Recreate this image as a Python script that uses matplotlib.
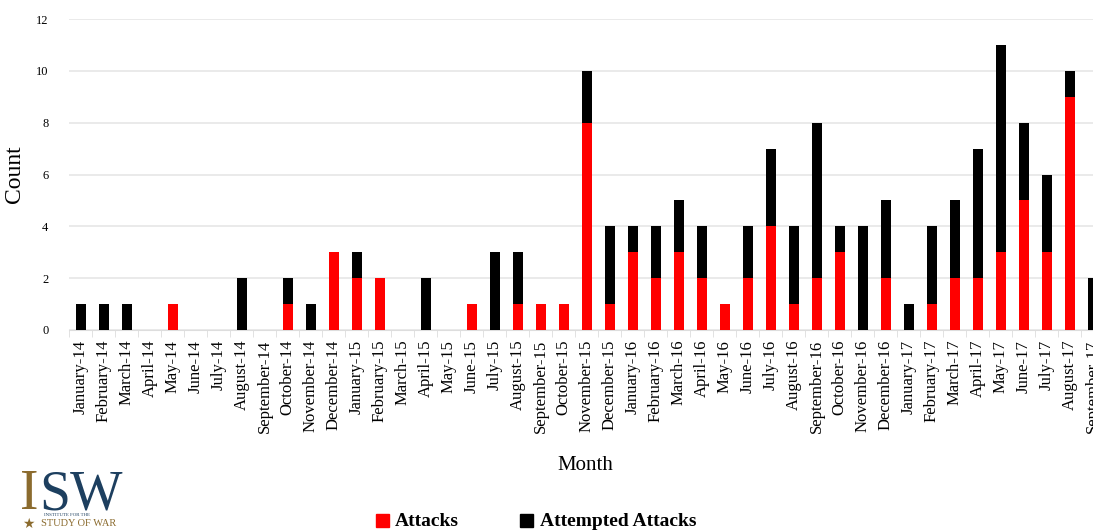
import matplotlib
matplotlib.use("Agg")
import matplotlib.pyplot as plt
import numpy as np
from matplotlib.patches import Rectangle

months = ["January-14","February-14","March-14","April-14","May-14","June-14","July-14","August-14",
          "September-14","October-14","November-14","December-14",
          "January-15","February-15","March-15","April-15","May-15","June-15","July-15","August-15",
          "September-15","October-15","November-15","December-15",
          "January-16","February-16","March-16","April-16","May-16","June-16","July-16","August-16",
          "September-16","October-16","November-16","December-16",
          "January-17","February-17","March-17","April-17","May-17","June-17","July-17","August-17",
          "September-17"]
attacks   = [0,0,0,0,1,0,0,0,0,1,0,3, 2,2,0,0,0,1,0,1,1,1,8,1, 3,2,3,2,1,2,4,1,2,3,0,2, 0,1,2,2,3,5,3,9,0]
attempted = [1,1,1,0,0,0,0,2,0,1,1,0, 1,0,0,2,0,0,3,2,0,0,2,3, 1,2,2,2,0,2,3,3,6,1,4,3, 1,3,3,5,8,3,3,1,2]

serif = ["Liberation Serif", "DejaVu Serif"]
plt.rcParams['font.family'] = serif

W, H = 1093, 532
fig = plt.figure(figsize=(W/100, H/100), dpi=100)
x0 = 69.2; x1 = 69.2 + 45*23.0
ax = fig.add_axes([x0/W, (H-330)/H, (x1-x0)/W, 311/H])

x = np.arange(len(months))
ax.bar(x, attacks, width=0.42, color="#FF0000", zorder=3)
ax.bar(x, attempted, width=0.42, bottom=attacks, color="#000000", zorder=3)

ax.set_xlim(-0.5, len(months)-0.5)
ax.set_ylim(0, 12)
ax.set_yticks(range(0, 13, 2))
ax.yaxis.grid(True, color="#E6E6E6", linewidth=1.2, zorder=0)
for s in ["top", "right", "left"]:
    ax.spines[s].set_visible(False)
ax.spines["bottom"].set_color("#DDDDDD")
ax.set_xticks(x)
ax.set_xticklabels(months, rotation=90, fontsize=12)
ax.tick_params(axis="x", which="major", length=0, pad=7)
ax.set_xticks(np.arange(-0.5, len(months), 1), minor=True)
ax.tick_params(axis="x", which="minor", length=5, color="#DDDDDD")
ax.tick_params(axis="y", length=0, labelsize=9, pad=15)
ax.set_ylabel("Count", fontsize=17, labelpad=8)

fig.text(585/W, 1-466/H, "Month", fontsize=15, ha="center", va="center")

# legend
fig.patches.append(Rectangle((376/W, 1-527/H), 13/W, 13/H, transform=fig.transFigure, color="#FF0000"))
fig.text(395/W, 1-521/H, "Attacks", fontsize=14, fontweight="bold", ha="left", va="center")
fig.patches.append(Rectangle((520/W, 1-527/H), 13/W, 13/H, transform=fig.transFigure, color="#000000"))
fig.text(540/W, 1-521/H, "Attempted Attacks", fontsize=14, fontweight="bold", ha="left", va="center")

# ISW logo (text)
fig.text(20/W, 1-509/H, "I", fontsize=40, color="#8B6B2E", ha="left", va="baseline")
fig.text(39/W, 1-509/H, "SW", fontsize=40, color="#1D3F5F", ha="left", va="baseline")
fig.text(44/W, 1-515/H, "INSTITUTE FOR THE", fontsize=3.5, color="#1D3F5F", ha="left", va="center")
fig.text(22/W, 1-524/H, "\u2605", fontsize=10, color="#8B6B2E", ha="left", va="center", family=["DejaVu Sans"])
fig.text(41/W, 1-524/H, "STUDY OF WAR", fontsize=7.5, color="#8B6B2E", ha="left", va="center")

fig.savefig("out.png", dpi=100)
